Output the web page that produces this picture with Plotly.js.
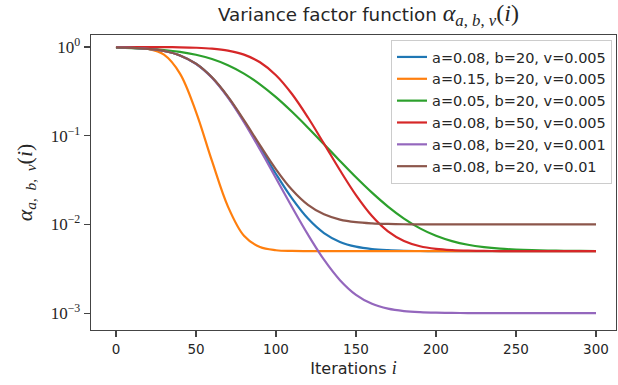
<!DOCTYPE html>
<html>
<head>
<meta charset="utf-8">
<script src="https://cdn.plot.ly/plotly-3.0.1.min.js"></script>
<style>
html,body{margin:0;padding:0;background:#fff;}
#chart{width:618px;height:385px;}
</style>
</head>
<body>
<div id="chart"></div>
<script>
// Iterations i
var iterations = [0,10,20,30,40,50,60,70,80,90,100,110,120,130,140,150,160,170,180,190,200,210,220,230,240,250,260,270,280,290,300];

// alpha values (one array per legend entry)
var blue_a008_b20_v0005 = [0.990,0.978,0.953,0.900,0.803,0.647,0.452,0.272,0.1456,0.0735,0.0370,0.01964,0.01163,0.00799,0.00635,0.00561,0.00527,0.00512,0.00505,0.00502,0.00501,0.005,0.005,0.005,0.005,0.005,0.005,0.005,0.005,0.005,0.005];
var orange_a015_b20_v0005 = [0.9975,0.989,0.953,0.818,0.501,0.1859,0.0520,0.01589,0.00745,0.00555,0.00512,0.00503,0.00501,0.005,0.005,0.005,0.005,0.005,0.005,0.005,0.005,0.005,0.005,0.005,0.005,0.005,0.005,0.005,0.005,0.005,0.005];
var green_a005_b20_v0005 = [0.982,0.9707,0.9526,0.9241,0.8810,0.8178,0.7316,0.6234,0.5014,0.3796,0.2718,0.1859,0.1232,0.0802,0.0520,0.0340,0.0228,0.01589,0.01163,0.00903,0.00745,0.00649,0.00590,0.00555,0.00533,0.00520,0.00512,0.00507,0.00505,0.00503,0.00502];
var red_a008_b50_v0005 = [0.9996,0.9992,0.9982,0.9960,0.9911,0.9805,0.9576,0.9103,0.8203,0.6725,0.4806,0.2951,0.1603,0.0813,0.0408,0.0214,0.01244,0.00836,0.00651,0.00568,0.00531,0.00514,0.00506,0.00503,0.00501,0.005,0.005,0.005,0.005,0.005,0.005];
var purple_a008_b20_v0001 = [0.990,0.978,0.952,0.900,0.802,0.645,0.4497,0.2688,0.1422,0.0698,0.0331,0.01570,0.00766,0.00400,0.002352,0.001607,0.001273,0.001123,0.001055,0.001025,0.001011,0.001005,0.001002,0.001,0.001,0.001,0.001,0.001,0.001,0.001,0.001];
var brown_a008_b20_v001 = [0.990,0.978,0.952,0.901,0.803,0.648,0.4546,0.2754,0.1499,0.0782,0.0418,0.02456,0.01660,0.01298,0.01134,0.01060,0.01027,0.01012,0.01005,0.01002,0.01001,0.01,0.01,0.01,0.01,0.01,0.01,0.01,0.01,0.01,0.01];

var seriesNames = ["a=0.08, b=20, v=0.005","a=0.15, b=20, v=0.005","a=0.05, b=20, v=0.005","a=0.08, b=50, v=0.005","a=0.08, b=20, v=0.001","a=0.08, b=20, v=0.01"];
var seriesValues = [blue_a008_b20_v0005, orange_a015_b20_v0005, green_a005_b20_v0005, red_a008_b50_v0005, purple_a008_b20_v0001, brown_a008_b20_v001];
var seriesColors = ["#1f77b4","#ff7f0e","#2ca02c","#d62728","#9467bd","#8c564b"];

var yTickVals = [1, 0.1, 0.01, 0.001];
var yTickText = ["10<sup>0</sup>","10<sup>−1</sup>","10<sup>−2</sup>","10<sup>−3</sup>"];
var xTickVals = [0,50,100,150,200,250,300];

var traces = seriesValues.map(function(vals, k){
  return {
    x: iterations, y: vals, type: 'scatter', mode: 'lines',
    name: seriesNames[k],
    line: {color: seriesColors[k], width: 2.2, shape: 'spline', smoothing: 1}
  };
});

var axisColor = '#444444';
var layout = {
  width: 618, height: 385,
  margin: {l: 91, r: 2, t: 35, b: 55, pad: 0},
  paper_bgcolor: '#ffffff', plot_bgcolor: '#ffffff',
  font: {family: 'DejaVu Sans, sans-serif', color: '#262626', size: 13.5},
  title: {
    text: 'Variance factor function <span style="font-family:Liberation Serif;font-size:24px"><i>α</i><sub><i>a</i>, <i>b</i>, <i>v</i></sub>(<i>i</i>)</span>',
    x: 218/618, xref: 'container', xanchor: 'left', y: 0.962, yanchor: 'middle',
    font: {family: 'DejaVu Sans, sans-serif', size: 18.3, color: '#262626'}
  },
  xaxis: {
    range: [-15.6, 312.5], tickvals: xTickVals, ticks: 'outside', ticklen: 6, tickwidth: 1.2,
    tickcolor: axisColor, showline: true, linecolor: axisColor, linewidth: 1.3, mirror: true,
    showgrid: false, zeroline: false,
    tickfont: {family: 'DejaVu Sans, sans-serif', size: 13.5, color: '#262626'},
    title: {text: 'Iterations <i><span style="font-family:Liberation Serif;font-size:18px">i</span></i>', standoff: 7,
            font: {family: 'DejaVu Sans, sans-serif', size: 16, color: '#262626'}}
  },
  yaxis: {
    type: 'log', range: [-3.19, 0.135], tickvals: yTickVals, ticktext: yTickText,
    ticks: 'outside', ticklen: 6, tickwidth: 1.2, tickcolor: axisColor,
    showline: true, linecolor: axisColor, linewidth: 1.3, mirror: true,
    showgrid: false, zeroline: false,
    tickfont: {family: 'Liberation Serif, serif', size: 17, color: '#262626'},
    title: {text: '<i>α</i><sub><i>a</i>,  <i>b</i>,  <i>v</i></sub>(<i>i</i>)', standoff: 12,
            font: {family: 'Liberation Serif, serif', size: 22, color: '#262626'}}
  },
  legend: {
    x: 0.9924, xanchor: 'right', y: 0.983, yanchor: 'top',
    bgcolor: 'rgba(255,255,255,0.9)', bordercolor: '#cccccc', borderwidth: 1,
    itemwidth: 30,
    font: {family: 'DejaVu Sans, sans-serif', size: 14.5, color: '#262626'}
  },
  showlegend: true
};

Plotly.newPlot('chart', traces, layout, {displayModeBar: false, staticPlot: true});
</script>
</body>
</html>
